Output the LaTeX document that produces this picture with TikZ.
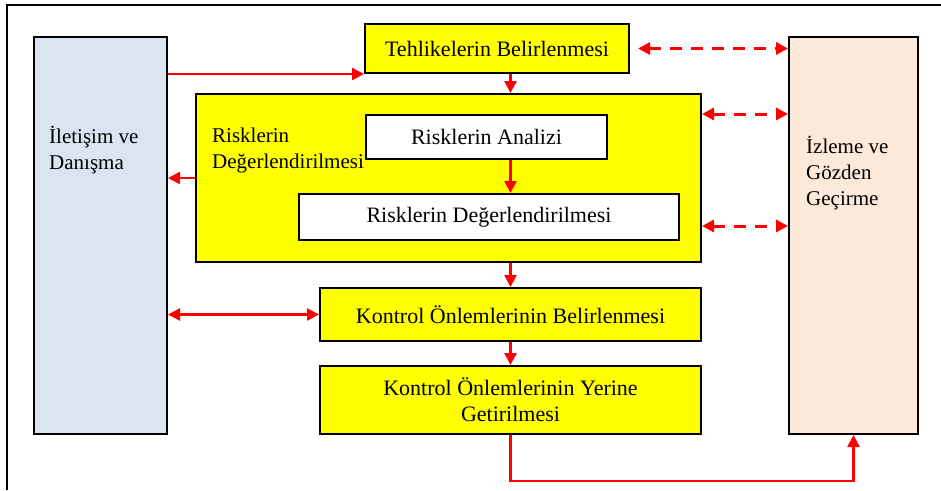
\documentclass[tikz,border=0pt]{standalone}
\usepackage{fontspec}
\setmainfont{Liberation Serif}
\usetikzlibrary{arrows.meta, calc, positioning}
\definecolor{kutumavi}{HTML}{DBE5F1}
\definecolor{kutupembe}{HTML}{FDE9D9}
\definecolor{sari}{HTML}{FFFF00}

\begin{document}
\begin{tikzpicture} [x = 1pt, y = -1pt, >= {Triangle[length = 12pt, width = 12pt]},
  box/.style = {draw, line width = 2pt, inner sep = 0pt, anchor = north west, align = center, font = \fontsize{22}{26}\selectfont},
  yazi/.style = {inner sep = 0pt, anchor = north west, align = left, font = \fontsize{21}{26}\selectfont},
  ok/.style = {->, red, line width = 2.5pt},
  kesik/.style = {<->, red, line width = 3pt, dash pattern = on 12pt off 9pt}]

\useasboundingbox (0,0) rectangle (941,490);
\draw [line width = 2pt] (941,5) -- (7,5) -- (7,490);

\node [box, fill = kutumavi, minimum width = 133pt, minimum height = 397pt] (iletisim) at (33,36) {};
\node [box, fill = kutupembe, minimum width = 129pt, minimum height = 397pt] (izleme) at (788,36) {};
\node [yazi] (iletisimyazi) at (49,126) {İletişim ve\\Danışma};
\node [yazi] (izlemeyazi) at (806,136) {İzleme ve\\Gözden\\Geçirme};

\node [box, fill = sari, minimum width = 264pt, minimum height = 49pt] (tehlike) at (364,23) {Tehlikelerin Belirlenmesi};
\node [box, fill = sari, minimum width = 505pt, minimum height = 168pt] (degerlendirme) at (195,93) {};
\node [yazi] (degerlendirmeyazi) at (212,128) {Risklerin\\Değerlendirilmesi};
\node [box, fill = white, minimum width = 241pt, minimum height = 44pt] (analiz) at (365,114) {Risklerin Analizi};
\node [box, fill = white, minimum width = 380pt, minimum height = 46pt] (degerler) at (298,193) {Risklerin Değerlendirilmesi};
\node [box, fill = sari, minimum width = 381pt, minimum height = 53pt] (kontrol) at (319,287) {Kontrol Önlemlerinin Belirlenmesi};
\node [box, fill = sari, minimum width = 381pt, minimum height = 68pt] (yerine) at (319,365) {Kontrol Önlemlerinin Yerine\\Getirilmesi};

% akis oklari
\draw [ok] (iletisim.east |- tehlike.south west) -- (tehlike.south west);
\draw [ok] (kontrol.north |- tehlike.south) -- (kontrol.north |- degerlendirme.north);
\draw [ok] (kontrol.north |- analiz.south) -- (kontrol.north |- degerler.north);
\draw [ok] (degerlendirme.west) -- (iletisim.east |- degerlendirme.west);
\draw [ok] (kontrol.north |- degerlendirme.south) -- (kontrol.north);
\draw [ok, <->] (iletisim.east |- kontrol.west) -- (kontrol.west);
\draw [ok] (kontrol.south) -- (yerine.north);
\draw [ok] (yerine.south) -- ++(0,46) -| (izleme.south);

% izleme oklari
\draw [kesik, shorten <= 8pt] (tehlike.east) -- (izleme.west |- tehlike.east);
\draw [kesik] (degerlendirme.east |- analiz.north) -- (izleme.west |- analiz.north);
\draw [kesik] ($(degerlendirme.south east)+(0,-37)$) -- (izleme.west |- {$(degerlendirme.south east)+(0,-37)$});

\end{tikzpicture}
\end{document}
